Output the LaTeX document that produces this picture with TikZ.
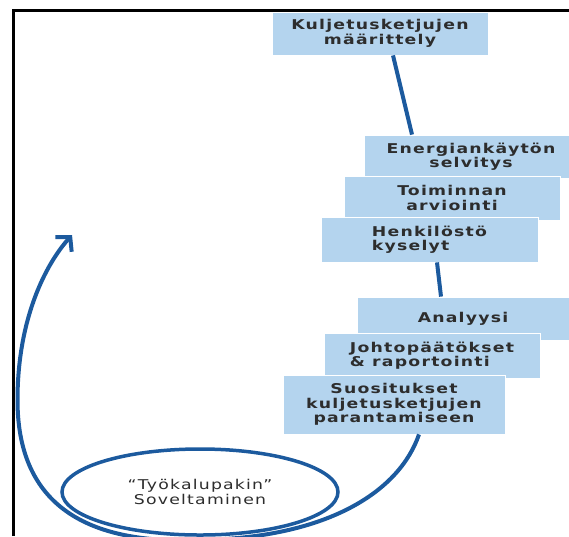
\documentclass[tikz,border=0pt]{standalone}
\usepackage{fontspec}
\setmainfont{DejaVu Sans}
\newfontfamily\boxfont[FakeStretch=1.28,LetterSpace=9]{DejaVu Sans}
\usepackage{tikz}
\usetikzlibrary{shapes.geometric,arrows.meta}
\definecolor{boxblue}{RGB}{180,212,238}
\definecolor{loopblue}{RGB}{28,90,158}
\definecolor{textgray}{RGB}{45,45,45}
\tikzset
{
    phasebox/.style    = {rectangle, fill=boxblue, draw=white, line width=0.8pt, align=center, minimum width=216pt, minimum height=44pt, inner sep=1pt, text=textgray, font={\boxfont\bfseries\fontsize{13.5}{14.5}\selectfont}},
    toolellipse/.style = {ellipse, draw=loopblue, line width=3.5pt, minimum width=276pt, minimum height=86pt, align=center, text=textgray, font={\boxfont\fontsize{13.5}{15}\selectfont}},
    flowline/.style    = {draw=loopblue, line width=4pt}
}

\begin{document}
\begin{tikzpicture}[x=1pt, y=-1pt, >={Straight Barb[length=10pt,width=22pt]}]
    \useasboundingbox (0,0) rectangle (569,536);
    \draw [line width=3pt] (13.5,536) |- (569,10);

    \node [phasebox, minimum height=43pt] (maarittely) at (380,33.5) {Kuljetusketjujen\\määrittely};
    \node [phasebox, minimum width=214pt, minimum height=43pt] (energia) at (471,156.5) {Energiankäytön\\selvitys};
    \node [phasebox] (toiminta) at (452,198) {Toiminnan\\arviointi};
    \node [phasebox, minimum width=217pt, minimum height=45pt, align=left] (kysely) at (429.5,239.5) {Henkilöstö\\kyselyt};
    \node [phasebox, minimum width=212pt, minimum height=43pt] (analyysi) at (463,318.5) {Analyysi};
    \node [phasebox, minimum height=45pt, align=left] (johto) at (432,355.5) {Johtopäätökset\\\& raportointi};
    \node [phasebox, minimum width=222pt, minimum height=59pt] (suositus) at (394,404.5) {Suositukset\\kuljetusketjujen\\parantamiseen};

    \node [toolellipse] (tool) at (200,492) {“Työkalupakin”\\Soveltaminen};

    \draw [flowline] ([xshift=13pt]maarittely.south) -- ([xshift=-59pt]energia.north);
    \draw [flowline] ([xshift=7.5pt]kysely.south) -- ([xshift=-22pt]analyysi.north);

    % loop back to the start
    \coordinate (tip) at (72,235);
    \draw [flowline, ->] ([xshift=25pt]suositus.south) .. controls (400,490) and (330,538) .. (200,540)
        .. controls (80,545) and (17.5,500) .. (17.5,400) .. controls (17.5,320) and (45,265) .. (tip);
\end{tikzpicture}
\end{document}
